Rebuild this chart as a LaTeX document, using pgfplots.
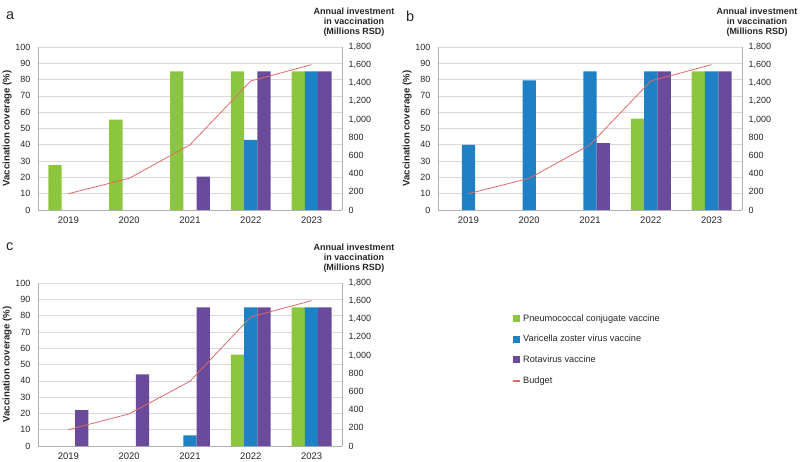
\documentclass[border=0pt]{standalone}
\usepackage{fontspec}
\setmainfont{Liberation Sans}
\usepackage{pgfplots}
\pgfplotsset{compat=1.18}
\definecolor{cgreen}{HTML}{8CC63F}
\definecolor{cblue}{HTML}{1F80C4}
\definecolor{cpurple}{HTML}{6A4A9A}
\definecolor{cred}{HTML}{E06A6A}
\definecolor{gridc}{HTML}{D9D9D9}
\definecolor{axc}{HTML}{B0B0B0}
\definecolor{txt}{HTML}{262626}

\pgfplotsset{
  base/.style={scale only axis, width=304pt, height=163pt, xmin=-0.5, xmax=4.5,
    /pgf/number format/assume math mode=true,
    tick label style={font=\fontsize{9}{10}\selectfont, text=txt},
    major tick length=0pt},
  barax/.style={base, ybar=0pt, bar width=13.3pt, ymin=0, ymax=100,
    ytick={0,10,...,100}, xtick={0,...,4},
    xticklabels={2019,2020,2021,2022,2023},
    ymajorgrids, grid style={gridc, line width=0.6pt},
    axis line style={axc, line width=0.6pt},
    axis x line*=bottom, axis y line*=left,
    xticklabel style={yshift=-3pt, font=\fontsize{9.5}{10}\selectfont},
    yticklabel style={xshift=-4pt},
    ylabel={Vaccination coverage (\%)},
    ylabel style={font=\bfseries\fontsize{9.6}{10}\selectfont, text=txt, yshift=-3pt}},
  lineax/.style={base, axis x line=none, axis y line*=right, ymin=0, ymax=1800,
    ytick={0,200,...,1800}, /pgf/number format/1000 sep={,},
    axis line style={axc, line width=0.6pt}, clip=false,
    yticklabel style={xshift=3pt}},
  barfill/.style={fill=#1, draw=none},
}

\newcommand{\righttitle}[1]{\node[align=center, font=\bfseries\fontsize{9}{10.2}\selectfont, text=txt, anchor=south] at ([xshift=#1, yshift=7pt]rel axis cs:1,1) {Annual investment\\in vaccination\\(Millions RSD)};}

\begin{document}
\begin{tikzpicture}
\useasboundingbox (0pt,0pt) rectangle (800pt,461pt);

% ---------------- Panel a ----------------
\begin{axis}[barax, at={(38pt,251pt)}, anchor=south west]
\addplot[barfill=cgreen] coordinates {(0,27.5) (1,55.5) (2,85) (3,85) (4,85)};
\addplot[barfill=cblue] coordinates {(3,43) (4,85)};
\addplot[barfill=cpurple] coordinates {(2,20.5) (3,85) (4,85)};
\end{axis}
\begin{axis}[lineax, at={(38pt,251pt)}, anchor=south west]
\addplot[cred, line width=0.8pt] coordinates {(0,180) (1,350) (2,720) (3,1425) (4,1605)};
\righttitle{12pt}
\end{axis}
\node[anchor=west, font=\fontsize{14.5}{16}\selectfont, text=txt] at (2.5pt,445pt) {a};

% ---------------- Panel b ----------------
\begin{axis}[barax, at={(438pt,251pt)}, anchor=south west]
\addplot[barfill=cgreen] coordinates {(3,56) (4,85)};
\addplot[barfill=cblue] coordinates {(0,40) (1,79.5) (2,85) (3,85) (4,85)};
\addplot[barfill=cpurple] coordinates {(2,41) (3,85) (4,85)};
\end{axis}
\begin{axis}[lineax, at={(438pt,251pt)}, anchor=south west]
\addplot[cred, line width=0.8pt] coordinates {(0,180) (1,350) (2,720) (3,1425) (4,1605)};
\righttitle{15pt}
\end{axis}
\node[anchor=west, font=\fontsize{14.5}{16}\selectfont, text=txt] at (402.5pt,445pt) {b};

% ---------------- Panel c ----------------
\begin{axis}[barax, at={(38pt,15pt)}, anchor=south west,
  legend style={draw=none, fill=none, at={(axis description cs:1.56,0.82)}, anchor=north west,
    font=\fontsize{9.2}{10}\selectfont, text=txt, row sep=8.5pt, inner sep=0pt},
  legend cell align=left]
\addplot[barfill=cgreen, legend image code/.code={\fill[cgreen] (0pt,-3.5pt) rectangle (7pt,3.5pt);}] coordinates {(3,56) (4,85)};
\addlegendentry{Pneumococcal conjugate vaccine}
\addplot[barfill=cblue, legend image code/.code={\fill[cblue] (0pt,-3.5pt) rectangle (7pt,3.5pt);}] coordinates {(2,6.5) (3,85) (4,85)};
\addlegendentry{Varicella zoster virus vaccine}
\addplot[barfill=cpurple, legend image code/.code={\fill[cpurple] (0pt,-3.5pt) rectangle (7pt,3.5pt);}] coordinates {(0,22) (1,44) (2,85) (3,85) (4,85)};
\addlegendentry{Rotavirus vaccine}
\addlegendimage{legend image code/.code={\draw[cred, line width=1.8pt] (0pt,0pt) -- (7pt,0pt);}}
\addlegendentry{Budget}
\end{axis}
\begin{axis}[lineax, at={(38pt,15pt)}, anchor=south west]
\addplot[cred, line width=0.8pt] coordinates {(0,180) (1,355) (2,715) (3,1425) (4,1605)};
\righttitle{12pt}
\end{axis}
\node[anchor=west, font=\fontsize{14.5}{16}\selectfont, text=txt] at (2.5pt,214pt) {c};
\end{tikzpicture}
\end{document}
